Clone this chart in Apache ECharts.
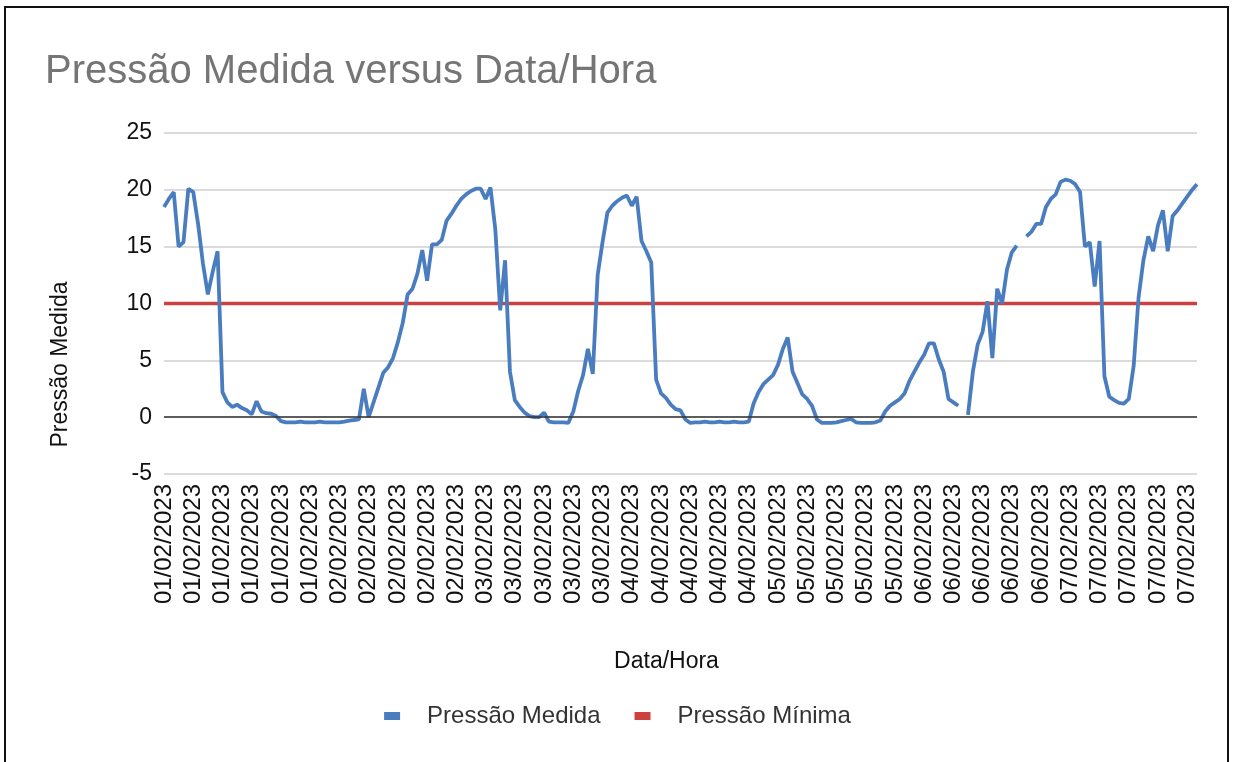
<!DOCTYPE html>
<html lang="pt">

<head>
    <meta charset="utf-8">
    <script src="https://cdn.jsdelivr.net/npm/echarts@6.0.0/dist/echarts.min.js"></script>
    <style>
        body {
            margin: 0;
            background: #fff;
        }

        #moldura {
            position: absolute;
            left: 4px;
            top: 6px;
            width: 1221px;
            height: 800px;
            border: 2px solid #111;
        }

        #chart {
            position: absolute;
            left: 0;
            top: 0;
            width: 1235px;
            height: 762px;
        }
    </style>
</head>

<body>
    <div id="moldura"></div>
    <div id="chart"></div>
    <script>
        // dias do eixo x e quantos pontos cada dia tem
        const dias = ['01/02/2023', '02/02/2023', '03/02/2023', '04/02/2023', '05/02/2023', '06/02/2023', '07/02/2023']
        const pontosPorDia = [36, 30, 30, 30, 30, 30, 27]

        // pressão medida
        const pressaoMedida = [
            18.5, 19.2, 19.8, 15.0, 15.4, 20.1, 19.8, 17.0, 13.5, 10.8,
            12.8, 14.6, 2.2, 1.3, 0.9, 1.1, 0.8, 0.6, 0.25, 1.4,
            0.5, 0.35, 0.3, 0.1, -0.35, -0.45, -0.45, -0.45, -0.4, -0.45,
            -0.45, -0.45, -0.4, -0.45, -0.45, -0.45, -0.45, -0.4, -0.3, -0.25,
            -0.2, 2.5, 0.0, 1.3, 2.6, 3.9, 4.4, 5.2, 6.6, 8.3,
            10.8, 11.3, 12.6, 14.7, 12.0, 15.2, 15.2, 15.6, 17.3, 17.9,
            18.6, 19.2, 19.6, 19.9, 20.1, 20.1, 19.2, 20.2, 16.5, 9.4,
            13.8, 4.0, 1.5, 0.9, 0.4, 0.1, 0.0, 0.0, 0.4, -0.4,
            -0.45, -0.45, -0.45, -0.5, 0.5, 2.3, 3.7, 6.0, 3.8, 12.5,
            15.4, 18.0, 18.6, 19.0, 19.3, 19.5, 18.6, 19.4, 15.5, 14.6,
            13.6, 3.3, 2.1, 1.7, 1.1, 0.7, 0.6, -0.2, -0.5, -0.45,
            -0.45, -0.4, -0.45, -0.45, -0.4, -0.45, -0.45, -0.4, -0.45, -0.45,
            -0.4, 1.2, 2.2, 2.9, 3.3, 3.7, 4.6, 6.0, 7.0, 4.0,
            3.0, 2.0, 1.6, 1.0, -0.2, -0.5, -0.5, -0.5, -0.45, -0.35,
            -0.25, -0.15, -0.45, -0.5, -0.5, -0.5, -0.45, -0.3, 0.5, 1.0,
            1.3, 1.6, 2.1, 3.2, 4.0, 4.8, 5.5, 6.5, 6.5, 5.1,
            4.0, 1.6, 1.3, 1.0, null, 0.2, 4.0, 6.4, 7.5, 10.2,
            5.2, 11.3, 10.0, 13.0, 14.5, 15.1, null, 15.9, 16.3, 17.0,
            17.0, 18.5, 19.2, 19.6, 20.7, 20.9, 20.8, 20.5, 19.8, 15.0,
            15.4, 11.5, 15.5, 3.6, 1.8, 1.5, 1.25, 1.2, 1.6, 4.5,
            10.5, 13.8, 15.9, 14.6, 16.9, 18.2, 14.6, 17.7, 18.2, 18.8,
            19.4, 20.0, 20.5
        ]
        // limite mínimo de pressão
        const pressaoMinima = 10

        const yTicks = { min: -5, max: 25, step: 5 }

        // monta as categorias (uma data por ponto)
        let categorias = []
        dias.forEach((d, i) => {
            for (let k = 0; k < pontosPorDia[i]; k++) categorias.push(d)
        })

        const fonte = 'Liberation Sans, Arial, sans-serif'
        let chart = echarts.init(document.querySelector('#chart'))
        chart.setOption({
            animation: false,
            title: {
                text: 'Pressão Medida versus Data/Hora',
                left: 45,
                top: 52,
                padding: 0,
                textStyle: {
                    fontFamily: fonte,
                    fontSize: 40,
                    fontWeight: 'normal',
                    color: '#757575'
                }
            },
            grid: {
                left: 164,
                right: 38,
                top: 133,
                bottom: 288,
                containLabel: false,
                outerBoundsMode: 'none'
            },
            legend: {
                bottom: 29,
                left: 'center',
                icon: 'rect',
                itemWidth: 16,
                itemHeight: 8,
                itemGap: 34,
                textStyle: {
                    fontFamily: fonte,
                    fontSize: 24,
                    color: '#333',
                    padding: [0, 0, 0, 22]
                },
                data: ['Pressão Medida', 'Pressão Mínima']
            },
            xAxis: {
                type: 'category',
                data: categorias,
                boundaryGap: false,
                name: 'Data/Hora',
                nameLocation: 'middle',
                nameGap: 176,
                nameTextStyle: {
                    fontFamily: fonte,
                    fontSize: 23,
                    color: '#111',
                    padding: [0, 28, 0, 0]
                },
                axisLine: { show: false },
                axisTick: { show: false },
                splitLine: { show: false },
                axisLabel: {
                    interval: 5,
                    rotate: 90,
                    margin: 10,
                    fontFamily: fonte,
                    fontSize: 24,
                    color: '#111'
                }
            },
            yAxis: {
                type: 'value',
                min: yTicks.min,
                max: yTicks.max,
                interval: yTicks.step,
                name: 'Pressão Medida',
                nameLocation: 'middle',
                nameGap: 92,
                nameTextStyle: {
                    fontFamily: fonte,
                    fontSize: 23,
                    color: '#111',
                    padding: [0, 122, 0, 0]
                },
                axisLine: { show: false },
                axisTick: { show: false },
                axisLabel: {
                    margin: 12,
                    fontFamily: fonte,
                    fontSize: 23,
                    color: '#111'
                },
                splitLine: {
                    lineStyle: { color: '#cfcfcf', width: 1.5 }
                }
            },
            series: [
                {
                    name: 'Pressão Medida',
                    type: 'line',
                    data: pressaoMedida,
                    showSymbol: false,
                    symbol: 'none',
                    connectNulls: false,
                    z: 4,
                    color: '#4a7dbf',
                    lineStyle: { width: 3.8, color: '#4a7dbf' }
                },
                {
                    name: 'Pressão Mínima',
                    type: 'line',
                    data: categorias.map(() => pressaoMinima),
                    showSymbol: false,
                    symbol: 'none',
                    z: 3,
                    color: '#cc4040',
                    lineStyle: { width: 3.5, color: '#cc4040' },
                    // linha do zero (eixo)
                    markLine: {
                        silent: true,
                        symbol: 'none',
                        label: { show: false },
                        lineStyle: { color: '#333', width: 1.5, type: 'solid' },
                        data: [{ yAxis: 0 }]
                    }
                }
            ]
        })
    </script>
</body>

</html>
